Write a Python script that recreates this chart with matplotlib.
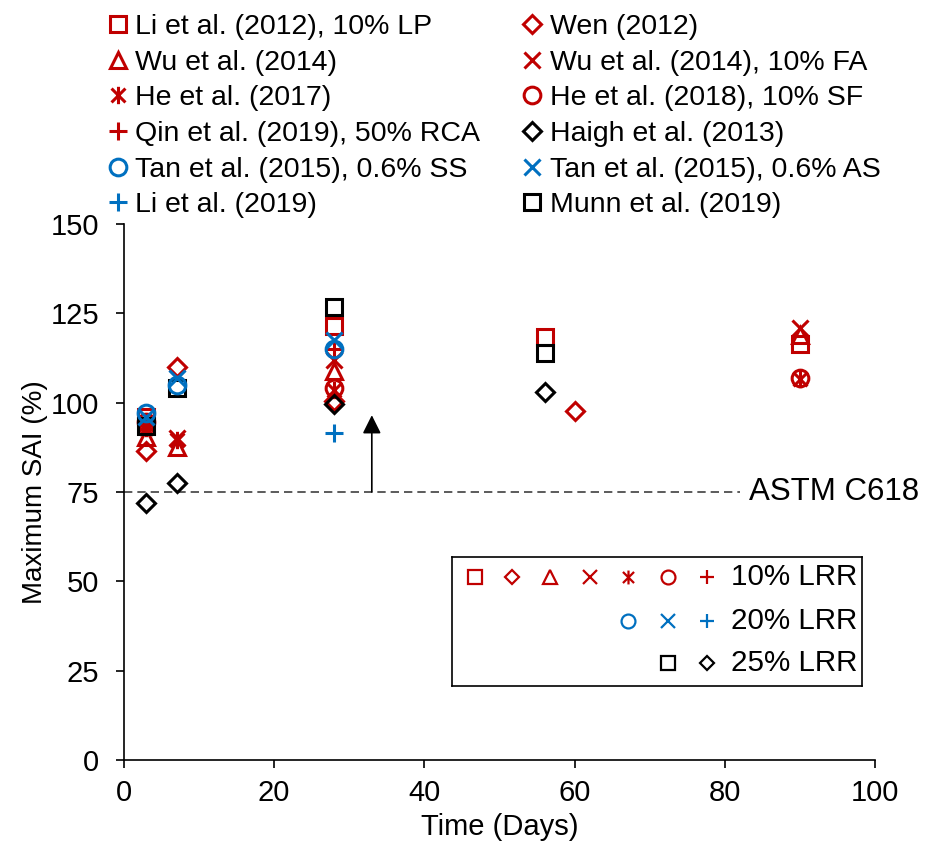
import matplotlib
matplotlib.use("Agg")
import matplotlib.pyplot as plt
from matplotlib.path import Path
import numpy as np

plt.rcParams['font.family'] = ['Liberation Sans', 'DejaVu Sans']

RED = '#C00000'
BLUE = '#0070C0'
BLACK = '#000000'

# Excel-style star marker: an X with a vertical stroke
STAR = Path([(-1, -1), (1, 1), (-1, 1), (1, -1), (0, -1.25), (0, 1.25)],
            [Path.MOVETO, Path.LINETO] * 3)

# ---- data: (curing age in days, maximum SAI in %) ----
li2012_x = [3, 28, 56, 90]
li2012_y = [96, 121.5, 118.3, 116.5]

wen2012_x = [3, 7, 28, 60]
wen2012_y = [86.6, 110, 100.5, 97.6]

wu2014_x = [3, 7, 28, 90]
wu2014_y = [90.5, 87.5, 109, 119]

wu2014fa_x = [3, 7, 28, 90]
wu2014fa_y = [94, 90, 112, 121]

he2017_x = [3, 7, 28, 90]
he2017_y = [93, 89.5, 103.5, 106.5]

he2018_x = [3, 28, 90]
he2018_y = [94.5, 104, 107]

qin2019_x = [3, 28]
qin2019_y = [94, 115]

haigh2013_x = [3, 7, 28, 56]
haigh2013_y = [72, 77.5, 99.5, 103]

tan_ss_x = [3, 7, 28]
tan_ss_y = [97, 105, 115]

tan_as_x = [3, 7, 28]
tan_as_y = [96, 107, 117.5]

li2019_x = [28]
li2019_y = [91.5]

munn2019_x = [3, 7, 28, 56]
munn2019_y = [93.5, 104, 126.7, 114]

astm_limit = 75

# legend order (two columns, filled column by column) and drawing layer
series = [
    # label, x, y, marker, colour, zorder
    ("Li et al. (2012), 10% LP", li2012_x, li2012_y, 's', RED, 3),
    ("Wu et al. (2014)", wu2014_x, wu2014_y, '^', RED, 3),
    ("He et al. (2017)", he2017_x, he2017_y, STAR, RED, 3),
    ("Qin et al. (2019), 50% RCA", qin2019_x, qin2019_y, '+', RED, 3),
    ("Tan et al. (2015), 0.6% SS", tan_ss_x, tan_ss_y, 'o', BLUE, 5),
    ("Li et al. (2019)", li2019_x, li2019_y, '+', BLUE, 5),
    ("Wen (2012)", wen2012_x, wen2012_y, 'D', RED, 3),
    ("Wu et al. (2014), 10% FA", wu2014fa_x, wu2014fa_y, 'x', RED, 3),
    ("He et al. (2018), 10% SF", he2018_x, he2018_y, 'o', RED, 3),
    ("Haigh et al. (2013)", haigh2013_x, haigh2013_y, 'D', BLACK, 4),
    ("Tan et al. (2015), 0.6% AS", tan_as_x, tan_as_y, 'x', BLUE, 5),
    ("Munn et al. (2019)", munn2019_x, munn2019_y, 's', BLACK, 4),
]

sizes = {'s': 12, '^': 12, 'o': 12, 'D': 9, 'x': 12, '+': 13}

fig = plt.figure(figsize=(9.25, 8.47), dpi=100)
ax = fig.add_axes([0.134, 0.1027, 0.812, 0.6328])

handles = []
for label, xs, ys, mk, col, z in series:
    ms = sizes.get(mk, 12) if isinstance(mk, str) else 12.5
    h, = ax.plot(xs, ys, linestyle='none', marker=mk, markersize=ms,
                 markerfacecolor='none', markeredgecolor=col,
                 markeredgewidth=2.2, label=label, clip_on=False, zorder=z)
    handles.append(h)

# ASTM C618 reference line
ax.plot([0, 82], [astm_limit, astm_limit], linestyle=(0, (5, 3)),
        color='#404040', linewidth=1.2, zorder=1)
ax.text(83.2, astm_limit, "ASTM C618", fontsize=22.5, va='center', ha='left',
        clip_on=False)
ax.annotate("", xy=(33, 96.5), xytext=(33, astm_limit),
            arrowprops=dict(arrowstyle='-|>', color='black', lw=1.2,
                            mutation_scale=28, shrinkA=0, shrinkB=0))

ax.set_xlim(0, 100)
ax.set_ylim(0, 150)
ax.set_xticks(np.arange(0, 101, 20))
ax.set_yticks(np.arange(0, 151, 25))
ax.tick_params(direction='out', length=6, width=1.2, labelsize=21)
ax.tick_params(axis='y', pad=12)
ax.tick_params(axis='x', pad=8)
for s in ('top', 'right'):
    ax.spines[s].set_visible(False)
for s in ('left', 'bottom'):
    ax.spines[s].set_linewidth(1.2)
ax.set_xlabel("Time (Days)", fontsize=21, labelpad=4)
ax.set_ylabel("Maximum SAI (%)", fontsize=20, labelpad=2)

fig.legend(handles=handles, ncol=2, loc='upper left',
           bbox_to_anchor=(102 / 925, 1 - 11 / 847), frameon=False,
           fontsize=20.5, handlelength=0.9, handletextpad=0.15,
           columnspacing=1.4, labelspacing=0.34, borderaxespad=0.0,
           borderpad=0.1)

# LRR key box
key_ax = fig.add_axes([452 / 925, 1 - 686 / 847, 410 / 925, 129 / 847])
key_ax.set_xlim(0, 410)
key_ax.set_ylim(129, 0)
key_ax.set_xticks([])
key_ax.set_yticks([])
for s in key_ax.spines.values():
    s.set_linewidth(1.2)
key_rows = [
    ([('s', RED), ('D', RED), ('^', RED), ('x', RED), (STAR, RED), ('o', RED), ('+', RED)], "10% LRR"),
    ([('o', BLUE), ('x', BLUE), ('+', BLUE)], "20% LRR"),
    ([('s', BLACK), ('D', BLACK)], "25% LRR"),
]
key_x = [23, 60, 98, 138, 176, 216, 255]
key_y = [20, 64, 106]
for (marks, text), yy in zip(key_rows, key_y):
    xs_row = key_x[len(key_x) - len(marks):]
    for (mk, col), xx in zip(marks, xs_row):
        ms = 7.5 if mk == 'D' else 10
        if not isinstance(mk, str):
            ms = 10
        key_ax.plot([xx], [yy], linestyle='none', marker=mk, markersize=ms,
                    markerfacecolor='none', markeredgecolor=col,
                    markeredgewidth=1.6)
    key_ax.text(405, yy, text, fontsize=21.3, ha='right', va='center')

fig.savefig("out.png", dpi=100)
